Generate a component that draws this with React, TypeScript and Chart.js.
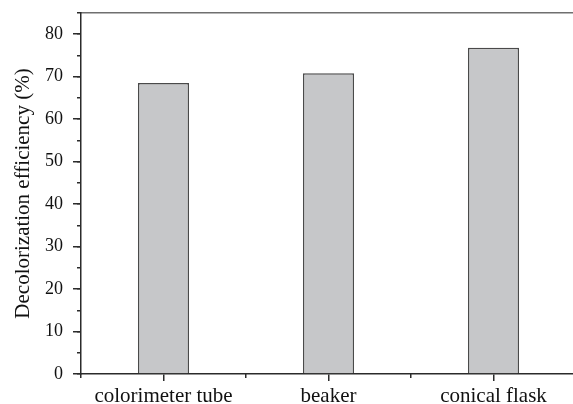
import React, { useEffect, useRef } from "react";
import { Chart, registerables } from "chart.js";

Chart.register(...registerables);

const categories = ["colorimeter tube", "beaker", "conical flask"];
const efficiency = [68.5, 70.8, 76.8];
const yMin = 0;
const yMax = 85;
const yMajorStep = 10;
const yMinorStep = 5;
const yTitle = "Decolorization efficiency (%)";

const AXIS = "#2b2b2b";
const FONT = "'Liberation Serif', 'Times New Roman', serif";

const noPad = (s: any) => {
  s.paddingTop = 0;
  s.paddingBottom = 0;
  s.paddingLeft = 0;
  s.paddingRight = 0;
};

export default function App() {
  const ref = useRef<HTMLCanvasElement | null>(null);

  useEffect(() => {
    if (!ref.current) return;
    const chart = new Chart(ref.current, {
      type: "bar",
      data: {
        labels: categories,
        datasets: [
          {
            data: efficiency,
            backgroundColor: "#c6c7c9",
            borderColor: "#4a4a4a",
            borderWidth: 1.5,
            borderSkipped: "start",
            barPercentage: 0.31,
            categoryPercentage: 1,
            xAxisID: "x",
            yAxisID: "y",
          },
        ],
      },
      options: {
        responsive: false,
        animation: false,
        devicePixelRatio: 1,
        layout: { padding: { top: 13, left: 0, right: 0, bottom: 0 } },
        plugins: { legend: { display: false }, tooltip: { enabled: false } },
        scales: {
          x: {
            type: "category",
            position: "bottom",
            weight: 1,
            offset: true,
            grid: {
              offset: false,
              drawOnChartArea: false,
              drawTicks: true,
              tickLength: 7,
              color: AXIS,
              lineWidth: 1.5,
            },
            border: { display: true, color: AXIS, width: 1.5 },
            ticks: {
              font: { family: FONT, size: 21 },
              color: "#111",
              padding: 3,
              maxRotation: 0,
              autoSkip: false,
            },
            afterFit: (s: any) => {
              s.height = 30;
              noPad(s);
            },
          },
          xMinor: {
            type: "category",
            position: "bottom",
            weight: 0,
            offset: true,
            grid: {
              offset: true,
              drawOnChartArea: false,
              drawTicks: true,
              tickLength: 4,
              color: AXIS,
              lineWidth: 1.5,
            },
            border: { display: false },
            ticks: { display: false },
            afterFit: (s: any) => {
              s.height = 0;
              noPad(s);
            },
          },
          xTop: {
            type: "category",
            position: "top",
            offset: true,
            grid: { display: true, drawOnChartArea: false, drawTicks: false },
            border: { display: true, color: "#6f6f6f", width: 1.5 },
            ticks: { display: false },
            afterFit: (s: any) => {
              s.height = 0;
              noPad(s);
            },
          },
          y: {
            type: "linear",
            position: "left",
            weight: 1,
            min: yMin,
            max: yMax,
            grid: {
              drawOnChartArea: false,
              drawTicks: true,
              tickLength: 8,
              color: AXIS,
              lineWidth: 1.5,
            },
            border: { display: true, color: AXIS, width: 1.5 },
            ticks: {
              stepSize: yMajorStep,
              includeBounds: false,
              font: { family: FONT, size: 18 },
              color: "#111",
              padding: 10,
            },
            title: {
              display: true,
              text: yTitle,
              font: { family: FONT, size: 21 },
              color: "#111",
              padding: { top: 11, bottom: 0 },
            },
            afterFit: (s: any) => {
              s.width = 81;
              noPad(s);
            },
          },
          yMinor: {
            type: "linear",
            position: "left",
            weight: 0,
            min: yMin,
            max: yMax,
            grid: {
              drawOnChartArea: false,
              drawTicks: true,
              tickLength: 4,
              color: AXIS,
              lineWidth: 1.5,
            },
            border: { display: false },
            ticks: { stepSize: yMinorStep, display: false },
            afterFit: (s: any) => {
              s.width = 0;
              noPad(s);
            },
          },
        },
      } as any,
    });
    return () => chart.destroy();
  }, []);

  return (
    <div
      style={{
        position: "fixed",
        left: 0,
        top: 0,
        width: 573,
        height: 404,
        overflow: "hidden",
        background: "#fff",
      }}
    >
      <canvas ref={ref} width={576} height={404} style={{ display: "block" }} />
    </div>
  );
}
